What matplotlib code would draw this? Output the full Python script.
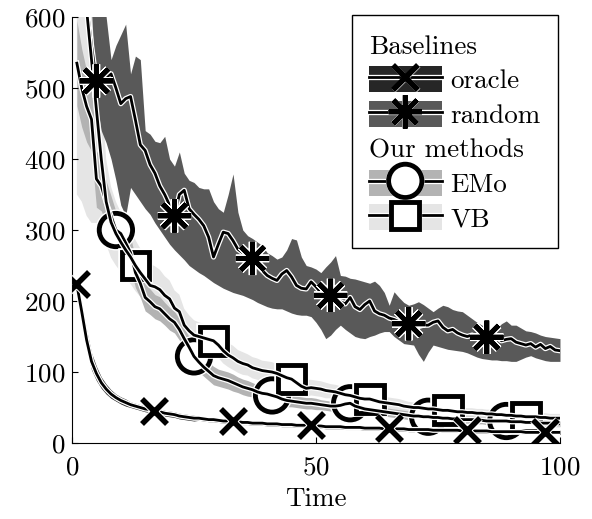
import numpy as np
import matplotlib
matplotlib.use('Agg')
import matplotlib.pyplot as plt
import matplotlib.patheffects as pe
from matplotlib.lines import Line2D
from matplotlib.patches import Patch

plt.rcParams['font.family'] = 'cmr10'
plt.rcParams['mathtext.fontset'] = 'cm'
plt.rcParams['axes.formatter.use_mathtext'] = True
plt.rcParams['font.size'] = 19.5

# ---- data ----
time = np.arange(1, 101)

oracle_mean = np.array([
    223, 185, 145, 115, 98, 85, 76, 69, 64, 60,
    57, 54, 52, 50, 48, 47, 45, 44, 42, 41,
    40, 38, 37, 36, 35, 35, 34, 33, 33, 32,
    31, 31, 30, 30, 29, 29, 28, 28, 28, 27,
    27, 27, 26, 26, 26, 25, 25, 25, 24, 24,
    24, 23, 23, 23, 23, 22, 22, 22, 22, 21,
    21, 21, 21, 20, 20, 20, 20, 20, 19, 19,
    19, 19, 19, 18, 18, 18, 18, 18, 18, 17,
    17, 17, 17, 17, 17, 16, 16, 16, 16, 16,
    16, 16, 15, 15, 15, 15, 15, 15, 15, 15])
oracle_spread = np.array([
    6, 12, 14, 12, 10, 8, 7, 6, 5, 5,
    5, 4, 4, 4, 4, 4, 4, 4, 4, 4,
    4, 4, 4, 4, 4, 3, 3, 3, 3, 3,
    3, 3, 3, 3, 3, 3, 3, 3, 3, 3,
    3, 3, 3, 3, 3, 3, 3, 3, 3, 3,
    3, 3, 3, 3, 3, 3, 3, 3, 3, 3,
    3, 3, 3, 3, 3, 3, 3, 3, 3, 3,
    3, 3, 3, 3, 3, 3, 3, 3, 3, 3,
    3, 3, 3, 3, 3, 3, 3, 3, 3, 3,
    3, 3, 3, 3, 3, 3, 3, 3, 3, 3])

random_mean = np.array([
    800, 700, 620, 560, 510, 505, 515, 520, 500, 478,
    485, 488, 455, 420, 412, 392, 380, 362, 350, 335,
    320, 350, 356, 330, 322, 315, 306, 290, 262, 280,
    297, 295, 285, 273, 268, 262, 260, 250, 243, 236,
    232, 229, 238, 243, 234, 222, 218, 217, 227, 220,
    212, 208, 208, 204, 199, 196, 205, 192, 188, 195,
    200, 186, 182, 180, 176, 174, 171, 168, 168, 166,
    164, 166, 166, 170, 172, 163, 158, 160, 155, 152,
    150, 152, 148, 150, 149, 147, 150, 144, 146, 147,
    142, 140, 138, 140, 135, 139, 133, 136, 131, 130])
random_hi = np.array([
    800, 800, 800, 800, 800, 800, 600, 540, 560, 575,
    590, 520, 545, 540, 440, 435, 425, 423, 432, 400,
    390, 410, 380, 370, 367, 360, 358, 358, 340, 330,
    325, 350, 379, 325, 300, 292, 288, 283, 278, 268,
    264, 259, 262, 272, 288, 286, 262, 250, 248, 245,
    240, 248, 255, 264, 236, 235, 232, 231, 229, 227,
    225, 228, 222, 212, 194, 213, 205, 198, 194, 196,
    199, 195, 190, 185, 190, 194, 192, 188, 186, 185,
    180, 175, 170, 166, 164, 162, 161, 168, 172, 166,
    166, 162, 158, 157, 155, 152, 150, 149, 148, 147])
random_lo = np.array([
    760, 700, 650, 610, 480, 440, 423, 400, 370, 335,
    320, 360, 350, 340, 330, 322, 310, 300, 290, 280,
    272, 265, 258, 250, 245, 240, 236, 231, 226, 222,
    218, 215, 212, 210, 208, 205, 202, 198, 195, 192,
    190, 189, 189, 186, 183, 181, 180, 180, 178, 170,
    160, 147, 152, 160, 166, 160, 155, 150, 148, 147,
    150, 152, 155, 157, 157, 150, 145, 140, 139, 138,
    125, 115, 128, 138, 136, 134, 132, 131, 130, 129,
    127, 124, 121, 119, 118, 117, 117, 116, 116, 115,
    115, 118, 121, 123, 120, 118, 116, 115, 115, 115])

emo_mean = np.array([
    535, 500, 474, 456, 372, 362, 339, 320, 300, 295,
    282, 268, 240, 225, 205, 199, 192, 189, 182, 175,
    170, 160, 147, 135, 122, 114, 107, 101, 95, 92,
    90, 88, 85, 82, 79, 77, 75, 72, 70, 69,
    67, 65, 62, 60, 59, 58, 57, 56, 56, 55,
    54, 53, 52, 52, 53, 55, 56, 52, 50, 48,
    47, 46, 45, 44, 43, 42, 41, 40, 39, 38,
    38, 37, 37, 36, 36, 35, 35, 34, 34, 33,
    33, 33, 32, 32, 31, 31, 31, 31, 31, 30,
    30, 30, 29, 29, 29, 28, 28, 28, 27, 27])
emo_spread = np.array([
    60, 55, 50, 45, 40, 35, 30, 28, 26, 25,
    24, 22, 21, 20, 19, 18, 17, 17, 16, 16,
    15, 15, 15, 14, 14, 14, 13, 13, 13, 12,
    12, 12, 12, 11, 11, 11, 10, 10, 10, 10,
    9, 9, 9, 9, 8, 8, 8, 8, 8, 8,
    7, 7, 7, 7, 7, 7, 7, 7, 7, 7,
    6, 6, 6, 6, 6, 6, 6, 6, 6, 6,
    5, 5, 5, 5, 5, 5, 5, 5, 5, 5,
    5, 5, 5, 5, 5, 5, 5, 5, 5, 5,
    4, 4, 4, 4, 4, 4, 4, 4, 4, 4])

vb_mean = np.array([
    850, 720, 610, 540, 470, 400, 340, 311, 295, 283,
    272, 262, 250, 240, 231, 222, 220, 216, 208, 203,
    190, 185, 166, 158, 152, 150, 148, 146, 144, 138,
    130, 124, 120, 115, 112, 110, 106, 104, 102, 101,
    100, 98, 95, 92, 90, 85, 80, 77, 78, 77,
    76, 74, 73, 72, 70, 68, 67, 65, 63, 62,
    62, 60, 58, 57, 56, 55, 54, 52, 51, 50,
    50, 49, 48, 48, 47, 46, 46, 45, 44, 44,
    43, 43, 42, 42, 41, 41, 40, 40, 39, 39,
    38, 38, 37, 37, 37, 36, 36, 35, 35, 35])
vb_spread = np.array([
    500, 380, 290, 230, 160, 100, 60, 50, 45, 42,
    40, 38, 36, 34, 32, 30, 29, 28, 27, 26,
    25, 24, 23, 22, 21, 20, 20, 19, 19, 18,
    18, 17, 17, 16, 16, 15, 15, 15, 14, 14,
    14, 13, 13, 13, 12, 12, 12, 12, 11, 11,
    11, 11, 10, 10, 10, 10, 10, 9, 9, 9,
    9, 9, 8, 8, 8, 8, 8, 8, 7, 7,
    7, 7, 7, 7, 7, 6, 6, 6, 6, 6,
    6, 6, 6, 6, 6, 6, 6, 6, 6, 6,
    6, 6, 6, 6, 6, 6, 6, 6, 6, 6])

labels = ['Baselines', 'oracle', 'random', 'Our methods', 'EMo', 'VB']

# ---- figure ----
fig = plt.figure(figsize=(5.92, 5.19), dpi=100)
ax = fig.add_axes([0.1216, 0.1464, 0.8243, 0.8208])

c_oracle, c_random, c_emo, c_vb = '#262626', '#595959', '#b3b3b3', '#e5e5e5'

ax.fill_between(time, vb_mean - vb_spread, vb_mean + vb_spread, color=c_vb, lw=0, zorder=1)
ax.fill_between(time, emo_mean - emo_spread, emo_mean + emo_spread, color=c_emo, lw=0, zorder=1.1)
ax.fill_between(time, random_lo, random_hi, color=c_random, lw=0, zorder=1.2)
ax.fill_between(time, oracle_mean - oracle_spread, oracle_mean + oracle_spread,
                color=c_oracle, lw=0, zorder=1.3)

halo = [pe.Stroke(linewidth=3.8, foreground='white'), pe.Normal()]
mhalo = [pe.Stroke(linewidth=5.5, foreground='white'), pe.Normal()]

# (values, marker style, first marker index, marker zorder)
styles = [
    (oracle_mean, dict(marker='x', ms=18, mew=4), 0, 5.0),
    (random_mean, dict(marker=(8, 2, 0), ms=24, mew=3.5), 4, 5.1),
    (emo_mean, dict(marker='o', ms=24, mew=3.5, mfc='white'), 8, 3.0),
    (vb_mean, dict(marker='s', ms=20, mew=3.5, mfc='white'), 12, 3.1),
]
for i, (y, mk, start, mz) in enumerate(styles):
    ax.plot(time, y, ls='none', color='k', markevery=(start, 16),
            path_effects=mhalo, zorder=mz, **mk)
    ax.plot(time, y, color='k', lw=2, path_effects=halo, zorder=4 + 0.1 * i)

ax.set_xlim(0, 100)
ax.set_ylim(0, 600)
ax.set_xticks([0, 50, 100])
ax.set_yticks(range(0, 601, 100))
ax.spines['top'].set_visible(False)
ax.spines['right'].set_visible(False)
ax.tick_params(direction='in', length=4, width=0.8, pad=5)
ax.tick_params(axis='x', pad=9)
ax.set_xlabel('Time', labelpad=6)

# ---- legend ----
blank = Line2D([], [], color='none')
handles = [blank]
band_cols = [c_oracle, c_random, c_emo, c_vb]
for k, (y, mk, start, mz) in enumerate(styles):
    ln = Line2D([], [], color='k', lw=2, path_effects=halo, **mk)
    handles.append((Patch(facecolor=band_cols[k], edgecolor='none'), ln))
    if k == 1:
        handles.append(blank)

leg = ax.legend(handles, labels, loc='upper right', bbox_to_anchor=(0.995, 1.005),
                handlelength=2.7, handleheight=1.1, handletextpad=0.32,
                labelspacing=0.27, borderpad=0.62, borderaxespad=0,
                fancybox=False, framealpha=1, edgecolor='black', numpoints=1)
leg.get_frame().set_linewidth(1.0)
leg.set_zorder(10)
for vp in leg._legend_handle_box.get_children():
    for hp in vp.get_children():
        da, ta = hp.get_children()
        if ta.get_text() in ('Baselines', 'Our methods'):
            da.width = 0
            hp.sep = 0

fig.savefig('out.png', dpi=100)
